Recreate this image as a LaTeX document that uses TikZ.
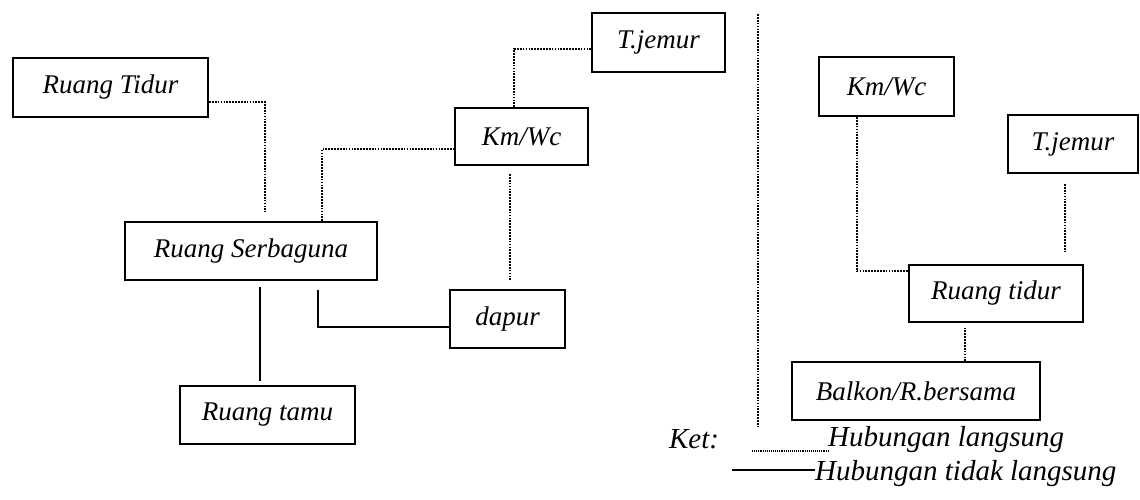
\documentclass[tikz,border=0pt]{standalone}
\usepackage{fontspec}
\setmainfont{Liberation Serif}
\begin{document}
\begin{tikzpicture}[x=1pt, y=-1pt,
 ruang/.style={draw, line width=2pt, inner sep=0pt, font=\fontsize{27}{32}\selectfont\itshape},
 langsung/.style={line width=2pt, dash pattern=on 1.7pt off 1.2pt},
 tidaklangsung/.style={line width=1.8pt},
 ket/.style={inner sep=0pt, font=\fontsize{29}{34}\selectfont\itshape}]
 \useasboundingbox (0,0) rectangle (1140,499);
 % kiri
 \node[ruang, minimum width=195pt, minimum height=59pt] (rtidur) at (110.5,87.5) {Ruang Tidur};
 \node[ruang, minimum width=252pt, minimum height=58pt] (serba) at (251,251) {Ruang Serbaguna};
 \node[ruang, minimum width=133pt, minimum height=57pt] (kmwc) at (521.5,136.5) {Km/Wc};
 \node[ruang, minimum width=133pt, minimum height=59pt] (tjemur) at (658.5,42.5) {T.jemur};
 \node[ruang, minimum width=115pt, minimum height=58pt] (dapur) at (507.5,319) {dapur};
 \node[ruang, minimum width=175pt, minimum height=58pt] (tamu) at (267.5,415) {Ruang tamu};
 \draw[langsung, shorten >=9pt] ([yshift=-14.5pt]rtidur.east) -| ([xshift=14pt]serba.north);
 \draw[langsung] ([xshift=71pt]serba.north) |- ([yshift=-12.5pt]kmwc.west);
 \draw[langsung] ([xshift=-7.5pt]kmwc.north) |- ([yshift=-6.5pt]tjemur.west);
 \draw[langsung, shorten <=8pt, shorten >=8pt] ([xshift=-11.5pt]kmwc.south) -- ([xshift=-11.5pt]kmwc.south |- dapur.north);
 \draw[tidaklangsung, shorten <=6pt, shorten >=4pt] ([xshift=9pt]serba.south) -- ([xshift=9pt]serba.south |- tamu.north);
 \draw[tidaklangsung, shorten <=9pt] ([xshift=67pt]serba.south) |- ([yshift=-8pt]dapur.west);
 % pembatas
 \coordinate (divtop) at (758,14);
 \coordinate (divbot) at (758,426);
 \draw[langsung, line width=1.6pt] (divtop) -- (divbot);
 % kanan
 \node[ruang, minimum width=135pt, minimum height=59pt] (kmwcb) at (886.5,86.5) {Km/Wc};
 \node[ruang, minimum width=130pt, minimum height=58pt] (tjemurb) at (1073,144) {T.jemur};
 \node[ruang, minimum width=174pt, minimum height=57pt] (rtidurb) at (996,293) {Ruang tidur};
 \node[ruang, minimum width=248pt, minimum height=58pt] (balkon) at (916,391) {Balkon/R.bersama};
 \draw[langsung] ([xshift=-29.5pt]kmwcb.south) |- ([yshift=22pt]rtidurb.west);
 \draw[langsung, shorten <=10pt, shorten >=10pt] ([xshift=-8pt]tjemurb.south) -- ([xshift=-8pt]tjemurb.south |- rtidurb.north);
 \draw[langsung, shorten <=5pt] ([xshift=-31pt]rtidurb.south) -- ([xshift=-31pt]rtidurb.south |- balkon.north);
 % keterangan
 \node[ket, anchor=base] (ketlabel) at (694,448) {Ket:};
 \node[ket, anchor=base west] (hl) at (828,446) {Hubungan langsung};
 \node[ket, anchor=base west] (htl) at (815,480) {Hubungan tidak langsung};
 \coordinate (kd) at (752,451);
 \coordinate (ks) at (732,470);
 \draw[langsung, line width=1.3pt, dash pattern=on 1.1pt off 1pt] (kd) -- (kd -| hl.west);
 \draw[tidaklangsung, line width=1.6pt] (ks) -- (ks -| htl.west);
\end{tikzpicture}
\end{document}
